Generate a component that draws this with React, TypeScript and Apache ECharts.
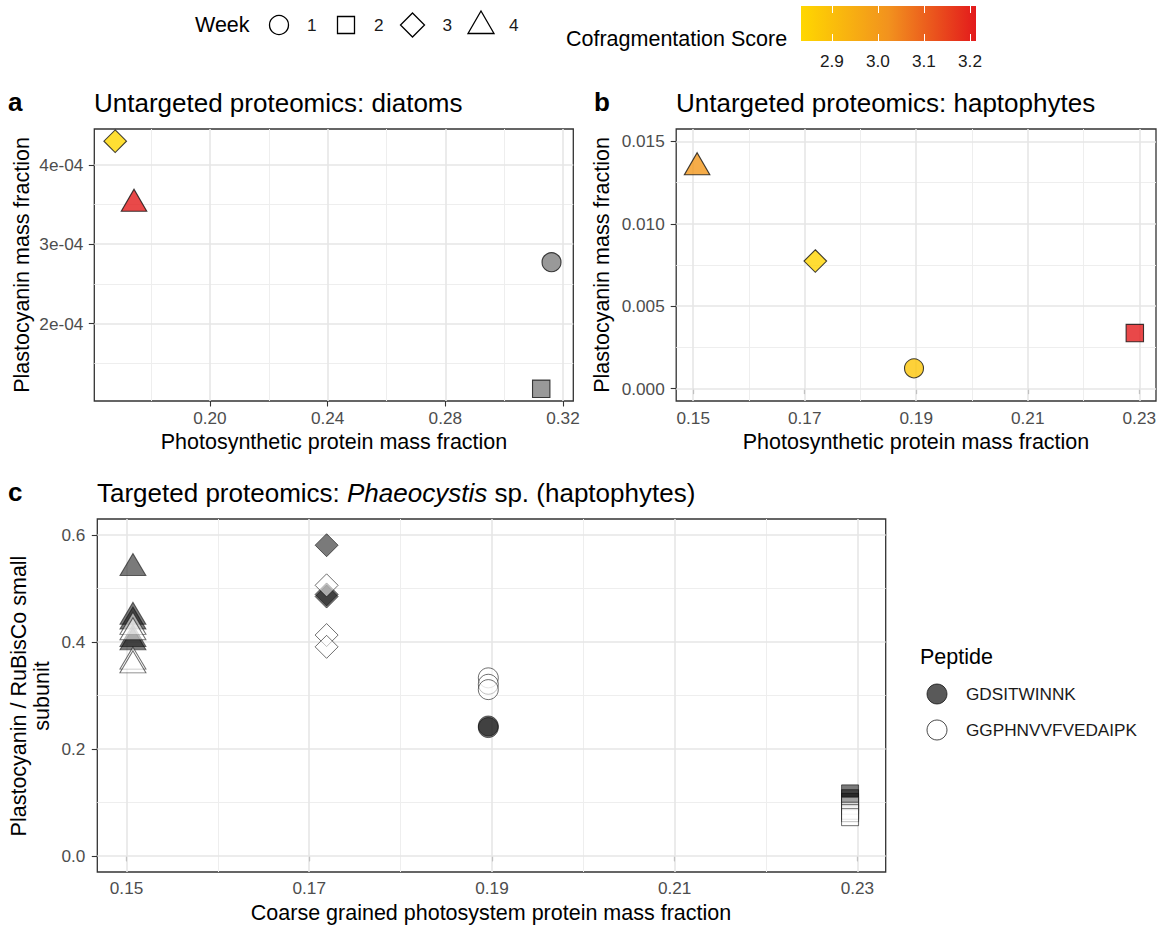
import React, { useEffect, useRef } from 'react';
import * as echarts from 'echarts';

const FONT = "'Liberation Sans', Arial, Helvetica, sans-serif";

// ---------- data ----------
// Panel a: untargeted proteomics, diatoms (weeks 1..4)
const aWeeks = [1, 2, 3, 4];
const aPhotoFraction = [0.3161, 0.3126, 0.1678, 0.1742];
const aPlastocyanin = [2.774e-4, 1.179e-4, 4.298e-4, 3.508e-4];
const aScore: (number | null)[] = [null, null, 2.833, 3.21];

// Panel b: untargeted proteomics, haptophytes (weeks 1..4)
const bWeeks = [1, 2, 3, 4];
const bPhotoFraction = [0.1896, 0.2292, 0.1719, 0.1507];
const bPlastocyanin = [0.00123, 0.00337, 0.00774, 0.01342];
const bScore = [2.88, 3.213, 2.84, 3.01];

// Panel c: targeted proteomics, Phaeocystis sp.
const peptides = ['GDSITWINNK', 'GGPHNVVFVEDAIPK'];
const cCoarseFraction = [0.1896, 0.2292, 0.1719, 0.1507]; // by week 1..4
const gdsWeek = [1, 1, 2, 2, 2, 3, 3, 3, 4, 4, 4, 4, 4];
const gdsRatio = [0.243, 0.24, 0.117, 0.108, 0.101, 0.581, 0.489, 0.485, 0.538, 0.447, 0.438, 0.405, 0.399];
const ggpWeek = [1, 1, 1, 2, 2, 2, 2, 3, 3, 3, 4, 4, 4, 4];
const ggpRatio = [0.333, 0.321, 0.311, 0.094, 0.0845, 0.08, 0.0725, 0.506, 0.413, 0.391, 0.428, 0.418, 0.363, 0.356];

// tick / grid values
const weekLabels = ['1', '2', '3', '4'];
const scoreTicks = [2.9, 3.0, 3.1, 3.2];
const aXMajor = [0.2, 0.24, 0.28, 0.32];
const aXMinor = [0.18, 0.22, 0.26, 0.3];
const aYMajor = [2e-4, 3e-4, 4e-4];
const aYMinor = [1.5e-4, 2.5e-4, 3.5e-4];
const bXMajor = [0.15, 0.17, 0.19, 0.21, 0.23];
const bXMinor = [0.16, 0.18, 0.2, 0.22];
const bYMajor = [0, 0.005, 0.01, 0.015];
const bYMinor = [0.0025, 0.0075, 0.0125];
const cXMajor = [0.15, 0.17, 0.19, 0.21, 0.23];
const cXMinor = [0.16, 0.18, 0.2, 0.22];
const cYMajor = [0, 0.2, 0.4, 0.6];
const cYMinor = [0.1, 0.3, 0.5];

// ---------- styling ----------
const SCORE_COLORS = ['#FFD700', '#F2921E', '#E31A1C'];
const WEEK_SYMBOL = ['circle', 'rect', 'diamond', 'triangle'];
const AB_SIZE: any[] = [19, 17.4, [22.6, 22.6], [25.5, 22]];
const AB_OFFSET: any[] = [[0, 0], [0, 0], [0, 0], [0, -3.7]];
const C_SIZE: any[] = [20, 17, [23, 23], [26, 22]];
const C_OFFSET: any[] = [[0, 0], [0, 0], [0, 0], [0, -3.7]];
const DARK_FILL = 'rgba(25,25,25,0.72)';
const WHITE_FILL = 'rgba(255,255,255,0.7)';
const PT_BORDER = 'rgba(15,15,15,0.75)';
const TICK_FS = 17.2;
const TITLE_FS = 21.5;

const scoreVals = [...aScore.filter((s) => s != null), ...bScore] as number[];
const scoreMin = Math.min(...scoreVals);
const scoreMax = Math.max(...scoreVals);

function sciFmt(v: number) {
  return v.toExponential(0).replace(/e([+-])(\d)$/, 'e$10$2');
}

function valueAxis(gridIndex: number, min: number, max: number, ticks: number[], fmt: (v: number) => string, margin: number) {
  return {
    type: 'value',
    gridIndex,
    min,
    max,
    axisLine: { show: false },
    axisTick: { show: true, customValues: ticks, length: 5.5, lineStyle: { color: '#333333', width: 1.1 } },
    axisLabel: { customValues: ticks, formatter: fmt, color: '#4D4D4D', fontSize: TICK_FS, fontFamily: FONT, margin },
    splitLine: { show: false },
    minorSplitLine: { show: false },
  };
}

function gridLines(idx: number, x0: number, y0: number, xMajor: number[], xMinor: number[], yMajor: number[], yMinor: number[]) {
  const major = { color: '#E6E6E6', width: 1.6, type: 'solid' };
  const minor = { color: '#EEEEEE', width: 1, type: 'solid' };
  return {
    type: 'scatter',
    xAxisIndex: idx,
    yAxisIndex: idx,
    data: [[x0, y0]],
    symbolSize: 0,
    itemStyle: { opacity: 0 },
    silent: true,
    z: 1,
    markLine: {
      silent: true,
      z: 1,
      precision: 12,
      symbol: ['none', 'none'],
      label: { show: false },
      emphasis: { disabled: true },
      animation: false,
      data: [
        ...xMinor.map((v) => ({ xAxis: v, lineStyle: minor })),
        ...yMinor.map((v) => ({ yAxis: v, lineStyle: minor })),
        ...xMajor.map((v) => ({ xAxis: v, lineStyle: major })),
        ...yMajor.map((v) => ({ yAxis: v, lineStyle: major })),
      ],
    },
  };
}

function abItem(week: number, x: number, y: number, score: number | null) {
  return {
    value: score == null ? [x, y] : [x, y, score],
    symbol: WEEK_SYMBOL[week - 1],
    symbolSize: AB_SIZE[week - 1],
    symbolOffset: AB_OFFSET[week - 1],
  };
}

function cItem(week: number, ratio: number) {
  return {
    value: [cCoarseFraction[week - 1], ratio],
    symbol: WEEK_SYMBOL[week - 1],
    symbolSize: C_SIZE[week - 1],
    symbolOffset: C_OFFSET[week - 1],
  };
}

function txt(text: string, x: number, y: number, size: number, opts: any = {}) {
  return {
    type: 'text',
    x,
    y,
    rotation: opts.rotation || 0,
    silent: true,
    style: {
      text,
      fill: opts.fill || '#000000',
      fontSize: size,
      fontFamily: FONT,
      fontWeight: opts.bold ? 'bold' : 'normal',
      align: opts.align || 'left',
      verticalAlign: 'middle',
      lineHeight: opts.lineHeight,
    },
  };
}

function buildOption() {
  // colourbar geometry
  const cbX = 801, cbY = 6, cbW = 175, cbH = 35;
  const cbPos = (v: number) => cbX + ((v - scoreMin) / (scoreMax - scoreMin)) * cbW;

  const graphic: any[] = [];
  // Week legend
  graphic.push(txt('Week', 195, 25, TITLE_FS));
  const legendStroke = { fill: 'none', stroke: '#000000', lineWidth: 1.3 };
  graphic.push({ type: 'circle', shape: { cx: 279, cy: 25, r: 9.5 }, style: legendStroke, silent: true });
  graphic.push({ type: 'rect', shape: { x: 337.5, y: 16.5, width: 17, height: 17 }, style: legendStroke, silent: true });
  graphic.push({ type: 'polygon', shape: { points: [[412.5, 13], [424.5, 25], [412.5, 37], [400.5, 25]] }, style: legendStroke, silent: true });
  graphic.push({ type: 'polygon', shape: { points: [[481, 11], [494, 33.5], [468, 33.5]] }, style: legendStroke, silent: true });
  const weekLabelX = [307, 374, 442.5, 509];
  weekLabels.forEach((l, i) => graphic.push(txt(l, weekLabelX[i], 25, TICK_FS, { fill: '#1A1A1A' })));

  // Colour bar legend
  graphic.push(txt('Cofragmentation Score', 566, 39, TITLE_FS));
  graphic.push({
    type: 'rect',
    shape: { x: cbX, y: cbY, width: cbW, height: cbH },
    style: {
      fill: new echarts.graphic.LinearGradient(0, 0, 1, 0, SCORE_COLORS.map((c, i) => ({ offset: i / (SCORE_COLORS.length - 1), color: c }))),
    },
    silent: true,
  });
  scoreTicks.forEach((t) => {
    const x = Math.round(cbPos(t)) + 0.5;
    graphic.push({ type: 'line', shape: { x1: x, y1: cbY, x2: x, y2: cbY + 7 }, style: { stroke: '#FFFFFF', lineWidth: 1 }, silent: true });
    graphic.push({ type: 'line', shape: { x1: x, y1: cbY + cbH - 7, x2: x, y2: cbY + cbH }, style: { stroke: '#FFFFFF', lineWidth: 1 }, silent: true });
    graphic.push(txt(t.toFixed(1), cbPos(t), 61, TICK_FS, { align: 'center', fill: '#1A1A1A' }));
  });

  // Panel tags and titles
  graphic.push(txt('a', 8, 102, 26, { bold: true }));
  graphic.push(txt('b', 594, 102, 26, { bold: true }));
  graphic.push(txt('c', 8, 492, 26, { bold: true }));
  graphic.push(txt('Untargeted proteomics: diatoms', 94, 103, 26));
  graphic.push(txt('Untargeted proteomics: haptophytes', 676, 103, 26));
  graphic.push({
    type: 'text',
    x: 97,
    y: 493,
    silent: true,
    style: {
      text: '{n|Targeted proteomics: }{i|Phaeocystis}{n| sp. (haptophytes)}',
      verticalAlign: 'middle',
      align: 'left',
      rich: {
        n: { fontSize: 26, fontFamily: FONT, fill: '#000000' },
        i: { fontSize: 26, fontFamily: FONT, fontStyle: 'italic', fill: '#000000' },
      },
    },
  });

  // Axis titles
  graphic.push(txt('Photosynthetic protein mass fraction', 334, 442, TITLE_FS, { align: 'center' }));
  graphic.push(txt('Plastocyanin mass fraction', 22, 265, TITLE_FS, { align: 'center', rotation: Math.PI / 2 }));
  graphic.push(txt('Photosynthetic protein mass fraction', 916, 442, TITLE_FS, { align: 'center' }));
  graphic.push(txt('Plastocyanin mass fraction', 602, 265, TITLE_FS, { align: 'center', rotation: Math.PI / 2 }));
  graphic.push(txt('Coarse grained photosystem protein mass fraction', 491, 913, TITLE_FS, { align: 'center' }));
  graphic.push(txt('Plastocyanin / RuBisCo small\nsubunit', 30, 696, TITLE_FS, { align: 'center', rotation: Math.PI / 2, lineHeight: 23 }));

  // Peptide legend
  graphic.push(txt('Peptide', 920, 657, TITLE_FS));
  graphic.push({ type: 'circle', shape: { cx: 937, cy: 694, r: 10 }, style: { fill: DARK_FILL, stroke: PT_BORDER, lineWidth: 1 }, silent: true });
  graphic.push({ type: 'circle', shape: { cx: 937, cy: 730, r: 10 }, style: { fill: WHITE_FILL, stroke: PT_BORDER, lineWidth: 1 }, silent: true });
  graphic.push(txt(peptides[0], 966, 694, TICK_FS, { fill: '#1A1A1A' }));
  graphic.push(txt(peptides[1], 966, 730, TICK_FS, { fill: '#1A1A1A' }));

  const aRange = { x: [0.1607, 0.3235], y: [1.025e-4, 4.452e-4] };
  const bRange = { x: [0.14695, 0.233], y: [-0.00075, 0.01575] };
  const cRange = { x: [0.1468, 0.2331], y: [-0.03, 0.63] };

  const gridBase = { show: true, borderColor: '#333333', borderWidth: 1.3, backgroundColor: '#FFFFFF', containLabel: false };

  const aColored = aWeeks.map((w, i) => ({ w, i })).filter((d) => aScore[d.i] != null)
    .map((d) => abItem(d.w, aPhotoFraction[d.i], aPlastocyanin[d.i], aScore[d.i]));
  const aNA = aWeeks.map((w, i) => ({ w, i })).filter((d) => aScore[d.i] == null)
    .map((d) => abItem(d.w, aPhotoFraction[d.i], aPlastocyanin[d.i], null));
  const bItems = bWeeks.map((w, i) => abItem(w, bPhotoFraction[i], bPlastocyanin[i], bScore[i]));

  return {
    animation: false,
    backgroundColor: '#FFFFFF',
    grid: [
      { ...gridBase, left: 94.3, top: 129, width: 479, height: 272 },
      { ...gridBase, left: 676.2, top: 129, width: 479.8, height: 272 },
      { ...gridBase, left: 97.3, top: 519, width: 788.4, height: 353 },
    ],
    xAxis: [
      valueAxis(0, aRange.x[0], aRange.x[1], aXMajor, (v) => v.toFixed(2), 8.5),
      valueAxis(1, bRange.x[0], bRange.x[1], bXMajor, (v) => v.toFixed(2), 8.5),
      valueAxis(2, cRange.x[0], cRange.x[1], cXMajor, (v) => v.toFixed(2), 7.5),
    ],
    yAxis: [
      valueAxis(0, aRange.y[0], aRange.y[1], aYMajor, sciFmt, 11),
      valueAxis(1, bRange.y[0], bRange.y[1], bYMajor, (v) => v.toFixed(3), 11.5),
      valueAxis(2, cRange.y[0], cRange.y[1], cYMajor, (v) => v.toFixed(1), 12),
    ],
    visualMap: [
      {
        type: 'continuous',
        show: false,
        min: scoreMin,
        max: scoreMax,
        dimension: 2,
        seriesIndex: [3, 5],
        inRange: { color: SCORE_COLORS },
      },
    ],
    series: [
      gridLines(0, aRange.x[0], aRange.y[0], aXMajor, aXMinor, aYMajor, aYMinor),
      gridLines(1, bRange.x[0], bRange.y[0], bXMajor, bXMinor, bYMajor, bYMinor),
      gridLines(2, cRange.x[0], cRange.y[0], cXMajor, cXMinor, cYMajor, cYMinor),
      {
        type: 'scatter', name: 'a-score', xAxisIndex: 0, yAxisIndex: 0, z: 3,
        itemStyle: { borderColor: '#111111', borderWidth: 1.1 },
        data: aColored,
      },
      {
        type: 'scatter', name: 'a-na', xAxisIndex: 0, yAxisIndex: 0, z: 3,
        itemStyle: { color: '#7F7F7F', borderColor: '#111111', borderWidth: 1.1 },
        data: aNA,
      },
      {
        type: 'scatter', name: 'b-score', xAxisIndex: 1, yAxisIndex: 1, z: 3,
        itemStyle: { borderColor: '#111111', borderWidth: 1.1 },
        data: bItems,
      },
      {
        type: 'scatter', name: peptides[0], xAxisIndex: 2, yAxisIndex: 2, z: 3,
        itemStyle: { color: DARK_FILL, borderColor: PT_BORDER, borderWidth: 1 },
        data: gdsWeek.map((w, i) => cItem(w, gdsRatio[i])),
      },
      {
        type: 'scatter', name: peptides[1], xAxisIndex: 2, yAxisIndex: 2, z: 4,
        itemStyle: { color: WHITE_FILL, borderColor: PT_BORDER, borderWidth: 1 },
        data: ggpWeek.map((w, i) => cItem(w, ggpRatio[i])),
      },
    ],
    graphic,
  };
}

export default function App() {
  const ref = useRef<HTMLDivElement>(null);
  useEffect(() => {
    document.body.style.margin = '0';
    const chart = echarts.init(ref.current as HTMLDivElement, null, { renderer: 'svg' });
    chart.setOption(buildOption() as any);
    return () => chart.dispose();
  }, []);
  return <div ref={ref} style={{ width: 1160, height: 927 }} />;
}
